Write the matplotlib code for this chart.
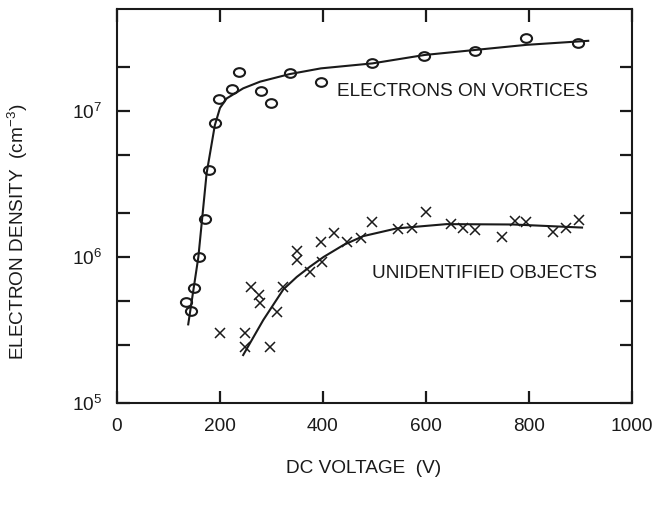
import numpy as np
import matplotlib
matplotlib.use("Agg")
import matplotlib.pyplot as plt
from matplotlib.path import Path
from matplotlib.transforms import Affine2D
from matplotlib.ticker import FixedLocator, NullFormatter, LogFormatterMathtext

plt.rcParams["font.family"] = ["Liberation Sans", "DejaVu Sans"]
plt.rcParams["mathtext.default"] = "regular"

# ---- data ----
# electrons on vortices (circles)
vort_v = [134, 143, 150, 159, 170, 178, 190, 199, 224, 237, 279, 300, 335, 396, 496, 597, 695, 795, 895]
vort_n = [4.9e5, 4.27e5, 6.1e5, 1.0e6, 1.83e6, 3.96e6, 8.3e6, 1.2e7, 1.41e7, 1.86e7,
          1.38e7, 1.14e7, 1.83e7, 1.58e7, 2.14e7, 2.4e7, 2.56e7, 3.15e7, 2.91e7]

# fitted curve through the circles
vort_fit_v = [138, 158, 174, 190, 200, 213, 245, 278, 335, 396, 496, 597, 695, 795, 917]
vort_fit_n = [3.4e5, 1.0e6, 3.74e6, 8.0e6, 1.05e7, 1.22e7, 1.43e7, 1.59e7, 1.79e7,
              1.96e7, 2.12e7, 2.42e7, 2.62e7, 2.84e7, 3.03e7]

# unidentified objects (crosses)
unid_v = [200, 249, 249, 297, 260, 276, 278, 310, 323, 349, 349, 375, 396, 398, 421,
          447, 473, 496, 546, 572, 600, 648, 671, 695, 747, 773, 794, 846, 871, 898]
unid_n = [3.03e5, 3.03e5, 2.43e5, 2.43e5, 6.26e5, 5.5e5, 4.87e5, 4.2e5, 6.26e5, 1.1e6,
          9.5e5, 7.9e5, 1.26e6, 9.3e5, 1.45e6, 1.26e6, 1.35e6, 1.73e6, 1.55e6, 1.59e6,
          2.02e6, 1.68e6, 1.59e6, 1.53e6, 1.38e6, 1.77e6, 1.74e6, 1.48e6, 1.59e6, 1.79e6]

unid_fit_v = [244, 284, 323, 349, 375, 401, 440, 478, 543, 640, 770, 905]
unid_fit_n = [2.1e5, 3.7e5, 6.0e5, 7.3e5, 8.6e5, 1.0e6, 1.21e6, 1.39e6, 1.57e6,
              1.68e6, 1.67e6, 1.59e6]

ink = "#1a1a1a"

# slightly flattened circle marker
oval = Path.unit_circle().transformed(Affine2D().scale(1.0, 0.78))

fig = plt.figure(figsize=(6.58, 5.08), dpi=100)
ax = fig.add_axes([0.1778, 0.2067, 0.7827, 0.7756])

ax.plot(vort_fit_v, vort_fit_n, color=ink, lw=1.5, solid_capstyle="butt")
ax.plot(unid_fit_v, unid_fit_n, color=ink, lw=1.5, solid_capstyle="butt")
ax.plot(vort_v, vort_n, ls="none", marker=oval, ms=8, mfc="none", mec=ink, mew=1.5)
ax.plot(unid_v, unid_n, ls="none", marker="x", ms=6.5, mec=ink, mew=1.1)

ax.set_yscale("log")
ax.set_xlim(0, 1000)
ax.set_ylim(1e5, 5e7)

ax.set_xticks([0, 200, 400, 600, 800, 1000])
ax.yaxis.set_major_locator(FixedLocator([1e5, 1e6, 1e7]))
ax.yaxis.set_major_formatter(LogFormatterMathtext())
ax.yaxis.set_minor_locator(FixedLocator([2.5e5, 5e5, 2e6, 5e6, 2e7]))
ax.yaxis.set_minor_formatter(NullFormatter())

for s in ax.spines.values():
    s.set_linewidth(1.5)
    s.set_color(ink)

ax.tick_params(which="both", direction="in", top=True, right=True,
               length=9, width=1.6, color=ink, labelsize=13.7, pad=11, labelcolor=ink)

ax.text(427, 1.27e7, "ELECTRONS ON VORTICES", fontsize=13.7, color=ink, va="baseline")
ax.text(496, 7.2e5, "UNIDENTIFIED OBJECTS", fontsize=13.7, color=ink, va="baseline")

ax.set_xlabel("DC VOLTAGE  (V)", fontsize=13.7, color=ink)
ax.set_ylabel("ELECTRON DENSITY  (cm$^{-3}$)", fontsize=13.7, color=ink)
ax.xaxis.set_label_coords(0.478, -0.145)
ax.yaxis.set_label_coords(-0.168, 0.435)

fig.savefig("out.png", dpi=100)
